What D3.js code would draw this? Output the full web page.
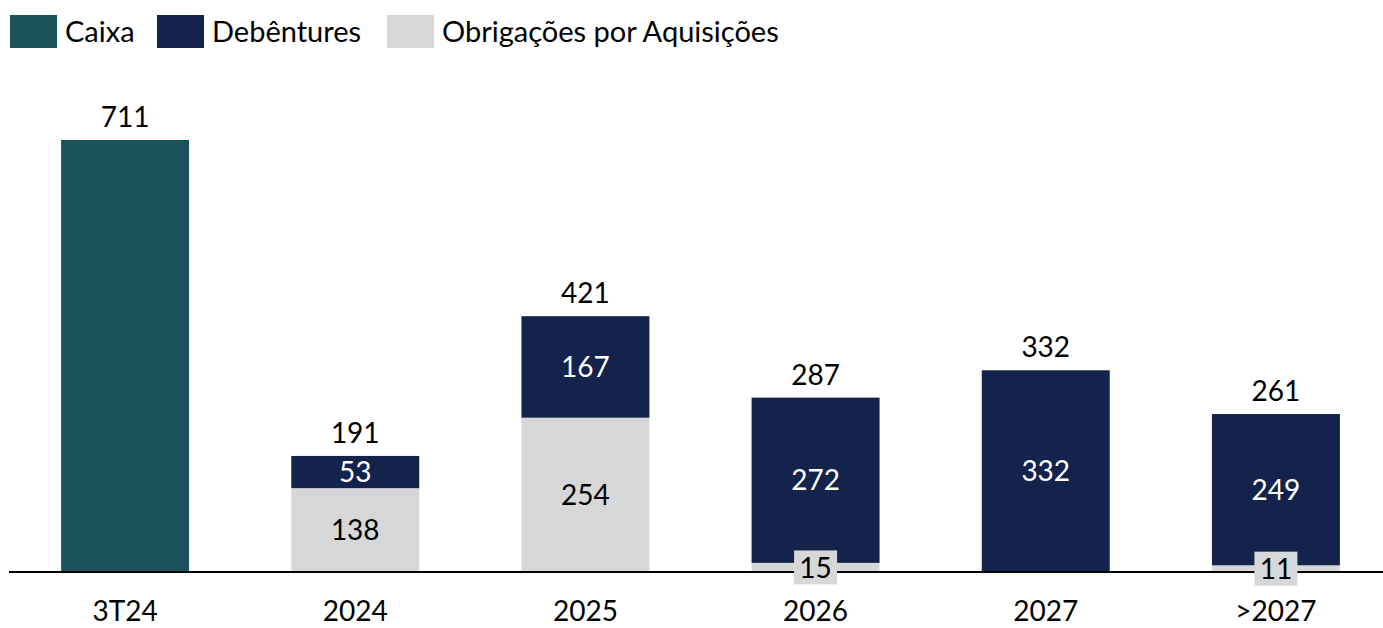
<!DOCTYPE html>
<html>
<head>
<meta charset="utf-8">
<script src="https://cdn.jsdelivr.net/npm/d3@7"></script>
<style>
  html, body { margin: 0; padding: 0; background: #ffffff; }
  svg { display: block; font-family: Lato, "Open Sans", sans-serif; }
</style>
</head>
<body>
<svg id="chart" width="1383" height="628"></svg>
<script>
const categories = ["3T24", "2024", "2025", "2026", "2027", ">2027"];
const caixa = [711, 0, 0, 0, 0, 0];
const debentures = [0, 53, 167, 272, 332, 249];
const obrigacoes = [0, 138, 254, 15, 0, 11];
const totals = [711, 191, 421, 287, 332, 261];

const seriesNames = ["Caixa", "Debêntures", "Obrigações por Aquisições"];
const seriesKeys = ["caixa", "debentures", "obrigacoes"];
const colors = { caixa: "#1b525c", debentures: "#14234b", obrigacoes: "#d6d7d9" };
const labelColors = { caixa: "#ffffff", debentures: "#ffffff", obrigacoes: "#000000" };

const rows = categories.map((c, i) => ({
  cat: c, caixa: caixa[i], debentures: debentures[i], obrigacoes: obrigacoes[i], total: totals[i]
}));

const svg = d3.select("#chart");
const FS = 28;

const x = d3.scaleBand().domain(categories).range([10, 1391])
  .paddingInner(0.444).paddingOuter(0.222);
const y = d3.scaleLinear().domain([0, 711]).range([572, 140]);

const stack = d3.stack().keys(["obrigacoes", "debentures", "caixa"]);
const layers = stack(rows);

const g = svg.append("g");
layers.forEach(layer => {
  const key = layer.key;
  g.selectAll(null).data(layer.filter(d => d[1] - d[0] > 0)).enter()
    .append("rect")
    .attr("x", d => x(d.data.cat))
    .attr("width", x.bandwidth())
    .attr("y", d => y(d[1]))
    .attr("height", d => y(d[0]) - y(d[1]))
    .attr("fill", colors[key]);
});

// axis
const axis = svg.append("g").attr("transform", "translate(0,572)")
  .call(d3.axisBottom(x).tickSize(0).tickSizeOuter(0));
axis.select(".domain").attr("stroke", "#000").attr("stroke-width", 2)
  .attr("d", "M9,0H1383");
axis.selectAll(".tick text")
  .attr("y", 49).attr("dy", null)
  .attr("font-size", FS).attr("font-family", "Lato, sans-serif").attr("fill", "#000");

// segment labels
const labG = svg.append("g");
layers.forEach(layer => {
  const key = layer.key;
  if (key === "caixa") return;
  layer.filter(d => d[1] - d[0] > 0).forEach(d => {
    const cx = x(d.data.cat) + x.bandwidth() / 2;
    const cy = (y(d[0]) + y(d[1])) / 2;
    const h = y(d[0]) - y(d[1]);
    const val = d[1] - d[0];
    if (h < 20) {
      labG.append("rect")
        .attr("x", cx - 21.5).attr("y", cy - 17)
        .attr("width", 43).attr("height", 34)
        .attr("fill", colors.obrigacoes);
    }
    labG.append("text")
      .attr("x", cx).attr("y", cy).attr("dy", "0.36em")
      .attr("text-anchor", "middle")
      .attr("font-size", FS)
      .attr("fill", labelColors[key])
      .text(val);
  });
});

// totals
svg.append("g").selectAll("text").data(rows).enter().append("text")
  .attr("x", d => x(d.cat) + x.bandwidth() / 2)
  .attr("y", d => y(d.caixa + d.debentures + d.obrigacoes) - 13)
  .attr("text-anchor", "middle")
  .attr("font-size", FS)
  .attr("fill", "#000")
  .text(d => d.total);

// legend
const legendX = [10, 157, 387];
const leg = svg.append("g");
seriesKeys.forEach((k, i) => {
  const lx = legendX[i];
  leg.append("rect").attr("x", lx).attr("y", 15).attr("width", 47).attr("height", 33)
    .attr("fill", colors[k]);
  leg.append("text").attr("x", lx + 55).attr("y", 32).attr("dy", "0.36em")
    .attr("font-size", 29).attr("fill", "#000").text(seriesNames[i]);
});
</script>
</body>
</html>
